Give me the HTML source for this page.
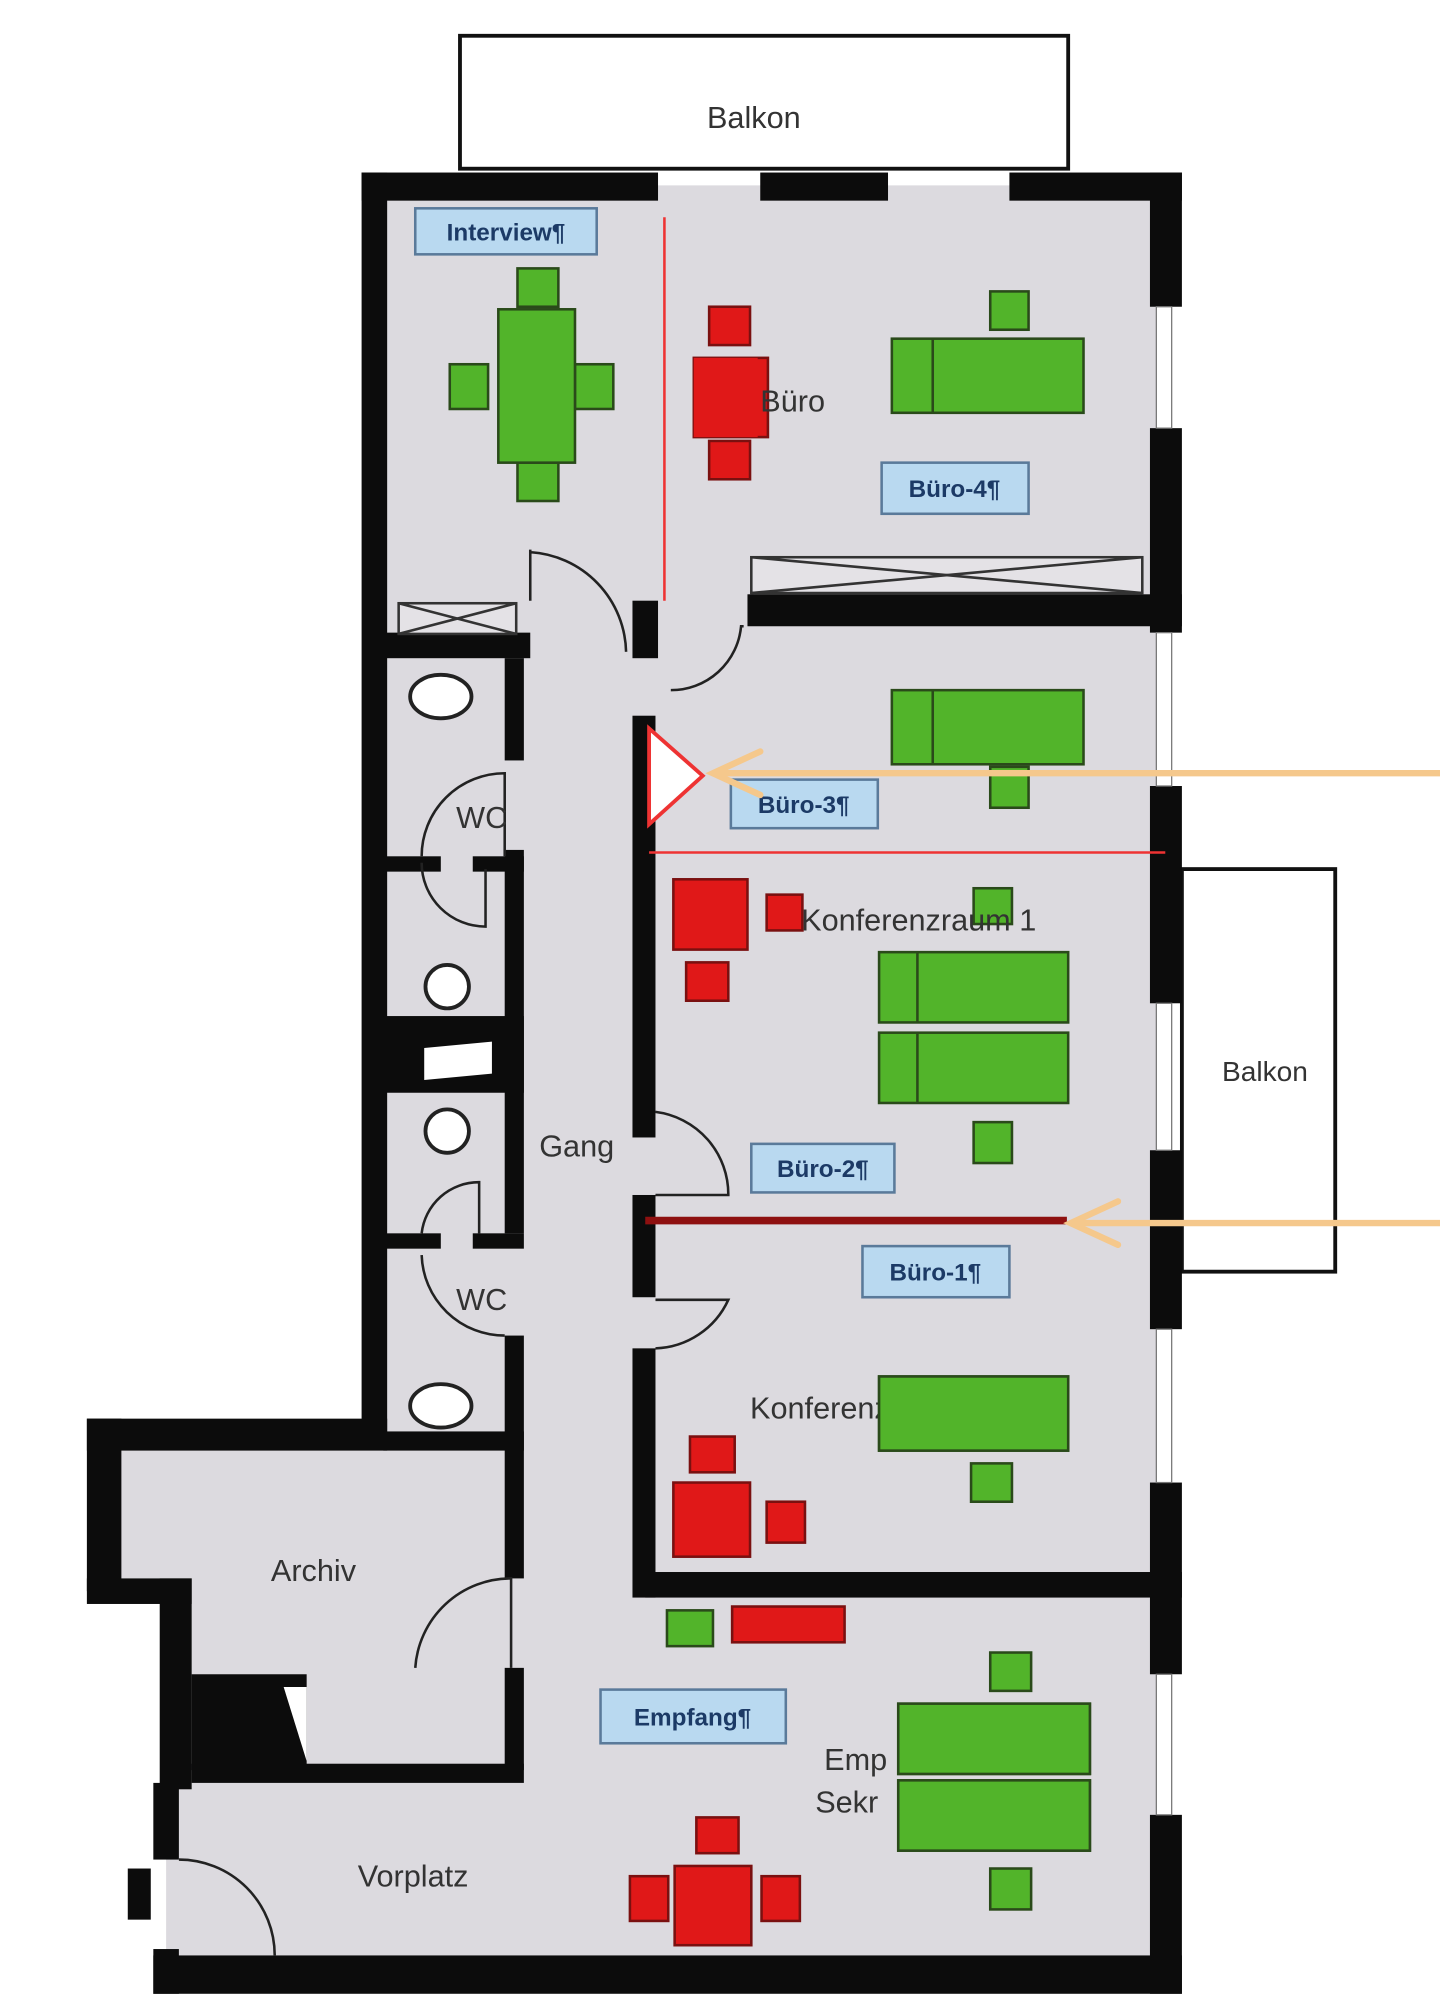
<!DOCTYPE html>
<html><head><meta charset="utf-8"><style>
html,body{margin:0;padding:0;background:#fff;}
svg{display:block;}
text{font-family:"Liberation Sans",sans-serif;}
</style></head><body>
<svg width="1440" height="2004" viewBox="0 0 1127 1568" preserveAspectRatio="none" xmlns="http://www.w3.org/2000/svg">
<rect width="1127" height="1568" fill="#fff"/>
<!-- balconies -->
<rect x="360" y="28" width="476" height="104" fill="#fff" stroke="#111" stroke-width="3"/>
<text x="590" y="100" font-size="24" text-anchor="middle" fill="#333">Balkon</text>
<rect x="925" y="680" width="120" height="315" fill="#fff" stroke="#111" stroke-width="3"/>
<text x="990" y="846" font-size="22" text-anchor="middle" fill="#333">Balkon</text>
<!-- floor -->
<polygon points="290,145 912,145 912,1545 130,1545 130,1395 140,1395 140,1245 85,1245 85,1125 290,1125" fill="#dcdadf"/>
<!-- outer walls -->
<g fill="#0c0c0c">
<rect x="283" y="135" width="20" height="990"/>
<rect x="283" y="135" width="232" height="22"/>
<rect x="595" y="135" width="100" height="22"/>
<rect x="790" y="135" width="135" height="22"/>
<rect x="900" y="135" width="25" height="105"/>
<rect x="900" y="335" width="25" height="160"/>
<rect x="900" y="615" width="25" height="170"/>
<rect x="900" y="900" width="25" height="140"/>
<rect x="900" y="1160" width="25" height="150"/>
<rect x="900" y="1420" width="25" height="140"/>
<rect x="120" y="1530" width="805" height="30"/>
<rect x="68" y="1110" width="235" height="25"/>
<rect x="68" y="1110" width="27" height="135"/>
<rect x="68" y="1235" width="82" height="20"/>
<rect x="125" y="1235" width="25" height="165"/>
<rect x="120" y="1395" width="20" height="60"/>
<rect x="120" y="1525" width="20" height="35"/>
<!-- corridor right wall -->
<rect x="495" y="470" width="20" height="45"/>
<rect x="495" y="560" width="18" height="330"/>
<rect x="495" y="935" width="18" height="80"/>
<rect x="495" y="1055" width="18" height="195"/>
<rect x="505" y="1230" width="420" height="20"/>
<rect x="585" y="465" width="340" height="25"/>
<!-- corridor left wall -->
<rect x="395" y="515" width="15" height="80"/>
<rect x="395" y="665" width="15" height="300"/>
<rect x="395" y="1045" width="15" height="190"/>
<rect x="395" y="1305" width="15" height="80"/>
<rect x="300" y="495" width="115" height="20"/>
<rect x="300" y="670" width="45" height="12"/>
<rect x="370" y="670" width="40" height="12"/>
<rect x="300" y="795" width="110" height="60"/>
<rect x="300" y="965" width="45" height="12"/>
<rect x="370" y="965" width="40" height="12"/>
<rect x="300" y="1120" width="110" height="15"/>
<rect x="150" y="1380" width="260" height="15"/>
<rect x="150" y="1310" width="90" height="75"/>
<rect x="100" y="1462" width="18" height="40"/>
</g>
<polygon points="222,1320 240,1320 240,1378" fill="#fff"/>
<polygon points="332,820 385,815 385,840 332,845" fill="#fff"/>
<!-- windows -->
<g fill="#fff" stroke="#777" stroke-width="1">
<rect x="905" y="240" width="12" height="95"/>
<rect x="905" y="495" width="12" height="120"/>
<rect x="905" y="785" width="12" height="115"/>
<rect x="905" y="1040" width="12" height="120"/>
<rect x="905" y="1310" width="12" height="110"/>
</g>
<!-- cabinets with X -->
<g stroke="#333" stroke-width="2" fill="#e4e2e6">
<rect x="312" y="472" width="92" height="24"/><line x1="312" y1="472" x2="404" y2="496"/><line x1="312" y1="496" x2="404" y2="472"/>
<rect x="588" y="436" width="306" height="28"/><line x1="588" y1="436" x2="894" y2="464"/><line x1="588" y1="464" x2="894" y2="436"/>
</g>
<!-- sinks/toilets -->
<g fill="#fff" stroke="#222" stroke-width="3">
<ellipse cx="345" cy="545" rx="24" ry="17"/>
<ellipse cx="345" cy="1100" rx="24" ry="17"/>
<circle cx="350" cy="772" r="17"/>
<circle cx="350" cy="885" r="17"/>
</g>
<!-- doors -->
<g fill="none" stroke="#222" stroke-width="2">
<path d="M415,430 L415,470 M415,432 A80,80 0 0 1 490,510"/>
<path d="M525,540 A55,55 0 0 0 580,490 L582,490"/>
<path d="M330,670 A65,65 0 0 1 395,605 L395,670"/>
<path d="M330,675 A50,50 0 0 0 380,725 L380,680"/>
<path d="M330,965 A45,45 0 0 1 375,925 L375,965"/>
<path d="M330,982 A65,65 0 0 0 395,1045"/>
<path d="M513,870 A65,65 0 0 1 570,935 L513,935"/>
<path d="M513,1055 A65,65 0 0 0 570,1017 L513,1017"/>
<path d="M325,1305 A75,75 0 0 1 400,1235 L400,1305"/>
<path d="M140,1455 A75,75 0 0 1 215,1530"/>
</g>
<!-- red lines -->
<line x1="520" y1="170" x2="520" y2="470" stroke="#e33" stroke-width="2"/>
<line x1="508" y1="667" x2="912" y2="667" stroke="#e33" stroke-width="2"/>
<line x1="505" y1="955" x2="835" y2="955" stroke="#8e1010" stroke-width="6"/>
<polygon points="508,570 550,607 508,645" fill="#fff" stroke="#e33" stroke-width="3"/>
<!-- green furniture -->
<g fill="#52b42a" stroke="#2a4a1a" stroke-width="2">
<rect x="405" y="210" width="32" height="30"/><rect x="405" y="362" width="32" height="30"/>
<rect x="352" y="285" width="30" height="35"/><rect x="450" y="285" width="30" height="35"/>
<rect x="390" y="242" width="60" height="120"/>
<rect x="775" y="228" width="30" height="30"/>
<rect x="698" y="265" width="150" height="58"/><line x1="730" y1="265" x2="730" y2="323"/>
<rect x="698" y="540" width="150" height="58"/><line x1="730" y1="540" x2="730" y2="598"/>
<rect x="775" y="600" width="30" height="32"/>
<rect x="762" y="695" width="30" height="28"/>
<rect x="688" y="745" width="148" height="55"/><line x1="718" y1="745" x2="718" y2="800"/>
<rect x="688" y="808" width="148" height="55"/><line x1="718" y1="808" x2="718" y2="863"/>
<rect x="762" y="878" width="30" height="32"/>
<rect x="688" y="1077" width="148" height="58"/><line x1="718" y1="1077" x2="718" y2="1135"/>
<rect x="760" y="1145" width="32" height="30"/>
<rect x="522" y="1260" width="36" height="28"/>
<rect x="775" y="1293" width="32" height="30"/>
<rect x="703" y="1333" width="150" height="55"/><line x1="735" y1="1333" x2="735" y2="1388"/>
<rect x="703" y="1393" width="150" height="55"/><line x1="735" y1="1393" x2="735" y2="1448"/>
<rect x="775" y="1462" width="32" height="32"/>
</g>
<!-- red furniture -->
<g fill="#e01818" stroke="#7a1010" stroke-width="2">
<rect x="555" y="240" width="32" height="30"/><rect x="543" y="280" width="58" height="62"/><rect x="555" y="345" width="32" height="30"/>
<rect x="527" y="688" width="58" height="55"/><rect x="600" y="700" width="28" height="28"/><rect x="537" y="753" width="33" height="30"/>
<rect x="540" y="1124" width="35" height="28"/><rect x="527" y="1160" width="60" height="58"/><rect x="600" y="1175" width="30" height="32"/>
<rect x="573" y="1257" width="88" height="28"/>
<rect x="545" y="1422" width="33" height="28"/><rect x="493" y="1468" width="30" height="35"/><rect x="528" y="1460" width="60" height="62"/><rect x="596" y="1468" width="30" height="35"/>
</g>
<!-- room texts -->
<g font-size="24" fill="#333">
<text x="595" y="322">Büro</text>
<text x="357" y="648">WC</text>
<text x="357" y="1025">WC</text>
<text x="422" y="905">Gang</text>
<text x="212" y="1237">Archiv</text>
<text x="280" y="1476">Vorplatz</text>
<text x="627" y="728">Konferenzraum 1</text>
<text x="587" y="1110">Konferenzraum</text>
<text x="645" y="1385">Emp</text>
<text x="638" y="1418">Sekr</text>
</g>
<!-- redraw furniture over overflowing text -->
<g fill="#52b42a" stroke="#2a4a1a" stroke-width="2">
<rect x="688" y="1077" width="148" height="58"/>
<rect x="703" y="1333" width="150" height="55"/><rect x="703" y="1393" width="150" height="55"/>
</g>
<rect x="543" y="280" width="50" height="62" fill="#e01818"/>
<!-- labels -->
<g fill="#b9d9f0" stroke="#5a7a9a" stroke-width="2">
<rect x="325" y="163" width="142" height="36"/>
<rect x="690" y="362" width="115" height="40"/>
<rect x="572" y="610" width="115" height="38"/>
<rect x="588" y="895" width="112" height="38"/>
<rect x="675" y="975" width="115" height="40"/>
<rect x="470" y="1322" width="145" height="42"/>
</g>
<g font-size="19" font-weight="bold" fill="#1c3a66" text-anchor="middle">
<text x="396" y="188">Interview¶</text>
<text x="747" y="389">Büro-4¶</text>
<text x="629" y="636">Büro-3¶</text>
<text x="644" y="921">Büro-2¶</text>
<text x="732" y="1002">Büro-1¶</text>
<text x="542" y="1350">Empfang¶</text>
</g>
<!-- orange arrows -->
<g stroke="#f5c88c" stroke-width="5" fill="none" stroke-linecap="round">
<line x1="1127" y1="605" x2="560" y2="605"/>
<polyline points="595,588 558,605 595,622"/>
<line x1="1127" y1="957" x2="840" y2="957"/>
<polyline points="875,940 838,957 875,974"/>
</g>
</svg>
</body></html>
